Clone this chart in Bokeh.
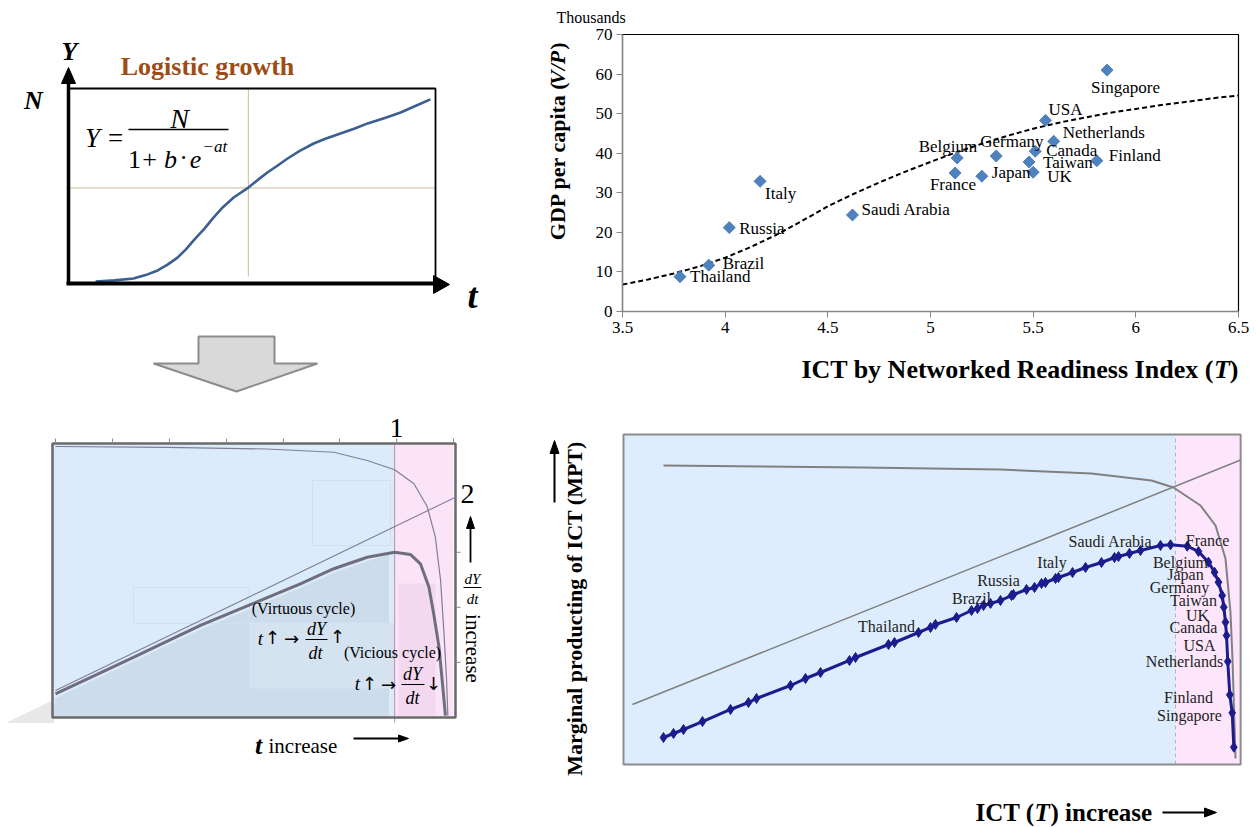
import math
from bokeh.plotting import figure
from bokeh.models import Range1d, NumeralTickFormatter
from bokeh.layouts import row, column
from bokeh.embed import file_html
from bokeh.resources import INLINE
from bokeh.core.properties import value

SERIF = "Liberation Serif"
ARROWFONT = "DejaVu Sans"

# ---------------- data: top-right scatter (GDP per capita vs NRI) ----------------
countries = ["Thailand", "Brazil", "Russia", "Italy", "Saudi Arabia", "Belgium", "France",
             "Japan", "Germany", "Canada", "Taiwan", "UK", "USA", "Netherlands", "Finland", "Singapore"]
ict_index = [3.78, 3.92, 4.02, 4.17, 4.62, 5.13, 5.12, 5.25, 5.32, 5.51, 5.48, 5.50, 5.56, 5.60, 5.81, 5.86]
gdp_thousands = [8.8, 11.7, 21.2, 32.9, 24.4, 38.8, 35.0, 34.2, 39.3, 40.5, 37.8, 35.2, 48.3, 43.0, 38.1, 61.0]
fit_ict = [3.5, 3.625, 3.75, 3.875, 4.0, 4.125, 4.25, 4.375, 4.5, 4.625, 4.75, 4.875, 5.0,
           5.125, 5.25, 5.375, 5.5, 5.625, 5.75, 5.875, 6.0, 6.125, 6.25, 6.375, 6.5]
fit_gdp = [6.8, 8.1, 9.6, 11.4, 13.6, 16.3, 19.4, 22.9, 26.6, 29.7, 32.6, 35.3, 37.8,
           40.2, 42.4, 44.4, 46.2, 47.7, 49.0, 50.2, 51.2, 52.2, 53.0, 53.9, 54.6]
ict_ticks = [3.5, 4.0, 4.5, 5.0, 5.5, 6.0, 6.5]
gdp_ticks = [0, 10, 20, 30, 40, 50, 60, 70]

# ---------------- data: top-left logistic schematic (t: 0..10, Y as share of N) ----------------
logistic_t = [0.74, 1.25, 1.77, 2.10, 2.43, 2.70, 2.97, 3.20, 3.41, 3.70, 3.95, 4.20, 4.50, 4.90,
              5.15, 5.42, 5.70, 5.97, 6.30, 6.68, 7.00, 7.41, 7.80, 8.15, 8.60, 9.05, 9.45, 9.86]
logistic_y = [0.010, 0.016, 0.026, 0.043, 0.067, 0.097, 0.133, 0.175, 0.221, 0.280, 0.338, 0.390,
              0.441, 0.492, 0.530, 0.569, 0.605, 0.641, 0.680, 0.718, 0.742, 0.769, 0.795, 0.821,
              0.848, 0.877, 0.910, 0.944]
inflection_t = 4.9
inflection_y = 0.49

# ---------------- data: bottom-left schematic (0..100 box units) ----------------
cyc_top_x = [0.74, 28.4, 53.2, 69.8, 78.1, 84.9, 89.7, 93.0, 95.0, 96.3, 97.1, 97.8, 98.1]
cyc_top_y = [98.9, 98.6, 98.0, 96.8, 93.8, 90.4, 85.3, 76.9, 65.8, 50.0, 31.8, 13.5, 0.7]
cyc_line_x = [0.74, 100.0]
cyc_line_y = [9.85, 80.4]
cyc_dydt_x = [0.74, 20.2, 36.7, 49.1, 61.5, 69.8, 78.1, 84.9, 88.8, 91.3, 93.4, 94.6, 95.9, 96.7, 97.5]
cyc_dydt_y = [8.65, 22.0, 33.6, 41.2, 48.8, 54.3, 58.5, 60.3, 59.5, 56.1, 47.6, 37.8, 25.7, 13.5, 0.7]
cyc_peak_x = 84.9
cyc_top_ticks = [0.74, 14.9, 29.0, 43.2, 57.3, 71.2, 85.4, 99.5]
cyc_right_ticks = [60.3, 40.2, 20.1]

# ---------------- data: bottom-right MPT curve (0..100 box units) ----------------
mpt_x = [6.46, 8.08, 9.69, 12.76, 17.29, 20.19, 21.49, 26.98, 29.40, 31.83, 36.51, 37.48, 42.81, 43.78,
         47.66, 49.60, 50.40, 53.80, 56.22, 57.19, 58.16, 59.29, 60.90, 62.68, 63.00, 65.11, 66.40, 67.53,
         68.17, 69.79, 70.27, 72.54, 74.64, 77.22, 79.32, 79.97, 81.74, 83.52, 86.75, 88.37, 91.07, 92.89,
         94.51, 95.48, 96.12, 96.72, 96.98, 97.25, 97.42, 97.62, 97.95, 98.34, 98.60]
mpt_y = [8.43, 9.64, 10.84, 13.25, 16.87, 18.98, 20.18, 24.10, 26.20, 28.01, 31.63, 32.53, 36.45, 37.05,
         40.06, 41.57, 42.47, 44.58, 46.69, 47.29, 48.19, 48.80, 49.70, 51.20, 51.51, 53.01, 53.61, 54.82,
         55.12, 56.33, 56.63, 58.13, 59.64, 61.14, 62.65, 62.95, 63.86, 64.76, 66.27, 66.48, 66.05, 64.46,
         61.23, 58.22, 55.21, 51.20, 47.68, 43.16, 39.16, 31.33, 21.30, 15.87, 5.51]
limit_x = [6.46, 38.61, 60.90, 75.61, 85.30, 88.85, 93.21, 95.64, 97.25, 98.06, 98.38, 98.71, 98.87]
limit_y = [90.36, 89.76, 89.16, 87.95, 85.84, 83.73, 78.31, 72.29, 62.35, 46.08, 32.23, 12.05, 2.11]
trend_x = [1.45, 99.7]
trend_y = [18.37, 92.0]
mpt_boundary = 89.18
mpt_names = ["Thailand", "Brazil", "Russia", "Italy", "Saudi Arabia", "France", "Belgium", "Japan",
             "Germany", "Taiwan", "UK", "Canada", "USA", "Netherlands", "Finland", "Singapore"]
mpt_name_x = [42.49, 56.22, 60.58, 69.22, 78.68, 94.35, 89.98, 90.79, 89.82, 92.08, 92.73, 92.08, 93.05, 90.63, 91.28, 91.44]
mpt_name_y = [41.87, 50.30, 55.72, 61.14, 67.47, 67.77, 61.14, 57.53, 53.61, 49.70, 45.18, 41.57, 36.14, 31.33, 20.48, 15.06]

# label offsets (pixels) and alignment for the scatter labels
lab_dx = [10, 14, 10, 5, 9, 20, 21, 10, -16, 11, 14, 14, 3, 9, 12, -16]
lab_dy = [0, -2, 1, 12, -5, -11, 11, -4, -14, -1, 1, 4, -11, -9, -5, 17]
lab_align = ["left", "left", "left", "left", "left", "right", "right", "left", "left", "left",
             "left", "left", "left", "left", "left", "left"]


# ---------------- helpers ----------------
def mapping(left, top, w, h, xv0, xp0, xv1, xp1, yv0, yp0, yv1, yp1):
    kx = (xv1 - xv0) / (xp1 - xp0)
    ky = (yv1 - yv0) / (yp1 - yp0)

    def X(px):
        return xv0 + (px - xp0) * kx

    def Y(py):
        return yv0 + (py - yp0) * ky

    return X, Y, Range1d(X(left), X(left + w)), Range1d(Y(top + h), Y(top))


def pixel_mapping(left, top, w, h):
    return mapping(left, top, w, h, 0, 0, 1, 1, 0, 0, -1, 1)


def blank(w, h, xr, yr):
    p = figure(width=w, height=h, x_range=xr, y_range=yr, output_backend="svg",
               toolbar_location=None, x_axis_type=None, y_axis_type=None, min_border=0)
    p.outline_line_color = None
    p.background_fill_color = "white"
    p.border_fill_color = "white"
    return p


def txt(p, x, y, s, size, style="normal", align="center", baseline="middle", color="black",
        angle=0.0, font=SERIF):
    p.text(x=[x], y=[y], text=[s], text_font=value(font), text_font_size=f"{size}px",
           text_font_style=style, text_align=align, text_baseline=baseline,
           text_color=color, angle=angle)


def arrow_txt(p, x, y, s, size=18):
    txt(p, x, y, s, size, font=ARROWFONT)


# =============== top-left: logistic growth ===============
X, Y, xr, yr = mapping(0, 0, 540, 408, 0, 68, 10, 435, 0, 283, 1, 88)
tl = blank(540, 408, xr, yr)
guide = "#C8BD99"
tl.line([inflection_t, inflection_t], [Y(87), Y(276)], line_color=guide, line_width=1)
tl.line([0, 10], [inflection_y, inflection_y], line_color=guide, line_width=1)
tl.line(logistic_t, logistic_y, line_color="#3D5F8F", line_width=2.6, line_join="round")
tl.line([0, 10, 10], [1, 1, 0], line_color="black", line_width=1.8)
tl.line([0, 0], [Y(284), Y(80)], line_color="black", line_width=3.5)
tl.patch([X(61), X(75), X(68)], [Y(83), Y(83), Y(67)], color="black")
tl.line([X(66), X(436)], [0, 0], line_color="black", line_width=4)
tl.patch([X(433), X(433), X(449)], [Y(275), Y(293), Y(284)], color="black")
txt(tl, X(69), Y(51), "Y", 26, "bold italic", baseline="alphabetic")
txt(tl, X(33), Y(100), "N", 26, "bold italic", baseline="alphabetic")
txt(tl, X(472), Y(295), "t", 36, "bold italic", baseline="alphabetic")
txt(tl, X(207), Y(66), "Logistic growth", 26, "bold", baseline="alphabetic", color="#9E4C14")
# formula
txt(tl, X(92), Y(137), "Y", 27, "italic", baseline="alphabetic")
txt(tl, X(115), Y(137), "=", 27, baseline="alphabetic")
txt(tl, X(179), Y(118), "N", 28, "italic", baseline="alphabetic")
tl.line([X(128), X(228)], [Y(129), Y(129)], line_color="black", line_width=1.3)
txt(tl, X(134), Y(159), "1", 26, baseline="alphabetic")
txt(tl, X(149), Y(159), "+", 26, baseline="alphabetic")
txt(tl, X(170), Y(159), "b", 26, "italic", baseline="alphabetic")
txt(tl, X(183), Y(157), "\u00b7", 26, baseline="alphabetic")
txt(tl, X(195), Y(159), "e", 26, "italic", baseline="alphabetic")
txt(tl, X(202), Y(146), "\u2212at", 17, "italic", align="left", baseline="alphabetic")
# block arrow
tl.patch([X(198), X(274), X(274), X(317), X(236), X(153), X(198)],
         [Y(336), Y(336), Y(363), Y(363), Y(391), Y(363), Y(363)],
         fill_color="#D9D9D9", line_color="#8C8C8C", line_width=2)

# =============== top-right: scatter (plus title strips) ===============
X, Y, xr, yr = pixel_mapping(540, 0, 717, 25)
top_strip = blank(717, 25, xr, yr)
txt(top_strip, X(556), Y(17), "Thousands", 16, align="left")

X, Y, xr, yr = pixel_mapping(540, 25, 38, 320)
left_strip = blank(38, 320, xr, yr)
txt(left_strip, X(557), Y(170.5), "GDP per capita (", 22, "bold", angle=math.pi / 2)
txt(left_strip, X(557), Y(63.5), "V/P", 22, "bold italic", angle=math.pi / 2)
txt(left_strip, X(557), Y(38.5), ")", 22, "bold", angle=math.pi / 2)

tr = figure(width=679, height=320, x_range=Range1d(3.5, 6.5), y_range=Range1d(0, 70),
            output_backend="svg", toolbar_location=None,
            min_border_left=44, min_border_right=19, min_border_top=9, min_border_bottom=34)
tr.grid.visible = False
tr.outline_line_color = "black"
tr.outline_line_width = 1.2
tr.background_fill_color = "white"
tr.border_fill_color = "white"
tr.axis.axis_line_color = "#868686"
tr.axis.axis_line_width = 1.3
tr.axis.major_tick_line_color = "#868686"
tr.axis.major_tick_out = 6
tr.axis.major_tick_in = 0
tr.axis.minor_tick_line_color = None
tr.axis.major_label_text_font = SERIF
tr.axis.major_label_text_font_size = "17px"
tr.axis.major_label_text_color = "black"
tr.axis.major_label_standoff = 4
tr.xaxis.ticker = ict_ticks
tr.yaxis.ticker = gdp_ticks
tr.xaxis.formatter = NumeralTickFormatter(format="0.[0]")

tr.line(fit_ict, fit_gdp, line_color="black", line_width=2, line_dash="5 3")
tr.scatter(ict_index, gdp_thousands, marker="square", angle=math.pi / 4, size=8.5,
           fill_color="#4F81BD", line_color="#4F81BD")
tr.text(x=ict_index, y=gdp_thousands, text=countries, x_offset=lab_dx, y_offset=lab_dy,
        text_align=lab_align, text_baseline="middle", text_font=value(SERIF),
        text_font_size="17px", text_color="black")

X, Y, xr, yr = pixel_mapping(540, 345, 717, 63)
bottom_strip = blank(717, 63, xr, yr)
txt(bottom_strip, X(1238), Y(369), ")", 26, "bold", align="right")
txt(bottom_strip, X(1238 - 0.333 * 26), Y(369), "T", 26, "bold italic", align="right")
txt(bottom_strip, X(1238 - 0.95 * 26), Y(369), "ICT by Networked Readiness Index (", 26, "bold", align="right")

# =============== bottom-left: virtuous / vicious cycle ===============
X, Y, xr, yr = mapping(0, 408, 540, 419, 0, 52, 100, 455, 0, 717, 100, 443)
bl = blank(540, 419, xr, yr)
bl.patch([X(7), X(53), X(53)], [Y(722), Y(700), Y(722)], color="#E8E8E8")
bl.quad(left=0, right=cyc_peak_x, bottom=0, top=100, fill_color="#DCEBFA", line_color=None)
shade_x = [x for x in cyc_dydt_x if x <= 84] + [83.5, 83.5, 0]
shade_y = [y - 1.5 for x, y in zip(cyc_dydt_x, cyc_dydt_y) if x <= 84] + [59.5, 0, 0]
bl.patch(shade_x, shade_y, fill_color="#CCDCEB", line_color=None)
bl.quad(left=X(249), right=cyc_peak_x, bottom=Y(688), top=Y(622), fill_color="#D5E3F1", line_color=None)
bl.quad(left=cyc_peak_x, right=99.5, bottom=0, top=100, fill_color="#FCE4F8", line_color=None)
bl.quad(left=X(398), right=X(435), bottom=Y(715), top=Y(583), fill_color="#F3D9F0", line_color=None)
bl.quad(left=X(312), right=X(390), bottom=Y(545), top=Y(480), fill_color=None, line_color="#CFE0F2", line_width=1)
bl.quad(left=X(133), right=X(249), bottom=Y(623), top=Y(587), fill_color=None, line_color="#CFE0F2", line_width=1)
bl.line([cyc_peak_x, cyc_peak_x], [0, 100], line_color="#B88FB8", line_width=1)
bl.line([cyc_peak_x, cyc_peak_x], [Y(717), Y(722)], line_color="#9A9A9A", line_width=1)
bl.quad(left=0, right=100, bottom=0, top=100, fill_color=None, line_color="#6A6A6A", line_width=2.5)
for tx in cyc_top_ticks:
    bl.line([tx, tx], [100, Y(438)], line_color="#8A8A8A", line_width=1)
for ty in cyc_right_ticks:
    bl.line([100, X(460)], [ty, ty], line_color="#8A8A8A", line_width=1)
bl.line(cyc_top_x, cyc_top_y, line_color="#7E7E98", line_width=1.2)
bl.line(cyc_line_x, cyc_line_y, line_color="#7E7E98", line_width=1.1)
bl.line(cyc_dydt_x, cyc_dydt_y, line_color="#6E6E7C", line_width=3, line_join="round")
txt(bl, X(396), Y(427), "1", 28)
txt(bl, X(467), Y(493), "2", 28)
txt(bl, X(303), Y(608), "(Virtuous cycle)", 16)
txt(bl, X(260), Y(638), "t", 19, "italic")
arrow_txt(bl, X(272), Y(637), "\u2191")
arrow_txt(bl, X(291), Y(638), "\u2192")
txt(bl, X(316), Y(628), "dY", 18, "italic")
bl.line([X(305), X(327)], [Y(639), Y(639)], line_color="black", line_width=1)
txt(bl, X(315), Y(652), "dt", 18, "italic")
arrow_txt(bl, X(337), Y(636), "\u2191")
txt(bl, X(392), Y(652), "(Vicious cycle)", 16)
txt(bl, X(357), Y(683), "t", 19, "italic")
arrow_txt(bl, X(369), Y(683), "\u2191")
arrow_txt(bl, X(388), Y(684), "\u2192")
txt(bl, X(412), Y(673), "dY", 18, "italic")
bl.line([X(401), X(424)], [Y(684), Y(684)], line_color="black", line_width=1)
txt(bl, X(412), Y(697), "dt", 18, "italic")
arrow_txt(bl, X(433), Y(683), "\u2193")
# right-side label
bl.line([X(470), X(470)], [Y(562), Y(526)], line_color="black", line_width=1.8)
bl.patch([X(466), X(474), X(470)], [Y(528), Y(528), Y(516)], color="black")
txt(bl, X(472), Y(578), "dY", 15, "italic")
bl.line([X(463), X(481)], [Y(587), Y(587)], line_color="black", line_width=1)
txt(bl, X(472), Y(598), "dt", 15, "italic")
txt(bl, X(472), Y(648), "increase", 21, angle=-math.pi / 2)
# bottom label
txt(bl, X(258), Y(745), "t", 26, "bold italic", baseline="alphabetic")
txt(bl, X(268), Y(745), "increase", 21, align="left", baseline="alphabetic")
bl.line([X(353), X(400)], [Y(738), Y(738)], line_color="black", line_width=1.8)
bl.patch([X(398), X(398), X(408)], [Y(734.5), Y(741.5), Y(738)], color="black")

# =============== bottom-right: marginal productivity of ICT ===============
X, Y, xr, yr = mapping(540, 408, 717, 419, 0, 623, 100, 1242, 0, 765, 100, 433)
br = blank(717, 419, xr, yr)
br.quad(left=0, right=mpt_boundary, bottom=0.3, top=99.7, fill_color="#DDEDFD", line_color=None)
br.quad(left=mpt_boundary, right=99.7, bottom=0.3, top=99.7, fill_color="#FDE6FB", line_color=None)
br.line([mpt_boundary, mpt_boundary], [0.3, 99.7], line_color="#B5B5B5", line_width=1, line_dash="4 3")
br.quad(left=0, right=99.7, bottom=0.3, top=99.7, fill_color=None, line_color="#8C8C8C", line_width=2)
br.line(trend_x, trend_y, line_color="#808080", line_width=1.5)
br.line(limit_x, limit_y, line_color="#808080", line_width=2, line_join="round")
br.line(mpt_x, mpt_y, line_color="#1C1C8E", line_width=3, line_join="round")
br.scatter(mpt_x, mpt_y, marker="diamond", size=10, fill_color="#1C1C8E", line_color="#1C1C8E")
br.text(x=mpt_name_x, y=mpt_name_y, text=mpt_names, text_align="center", text_baseline="middle",
        text_font=value(SERIF), text_font_size="16px", text_color="#1E1E1E")
txt(br, X(574), Y(608), "Marginal producting of ICT (MPT)", 22, "bold", angle=math.pi / 2)
br.line([X(554), X(554)], [Y(502), Y(450)], line_color="black", line_width=2)
br.patch([X(549.5), X(558.5), X(554)], [Y(453), Y(453), Y(440)], color="black")
txt(br, X(975), Y(812), "ICT (", 25, "bold", align="left")
txt(br, X(975 + 59), Y(812), "T", 25, "bold italic", align="left")
txt(br, X(975 + 59 + 16), Y(812), ") increase", 25, "bold", align="left")
br.line([X(1162), X(1206)], [Y(812), Y(812)], line_color="black", line_width=2)
br.patch([X(1204), X(1204), X(1216)], [Y(807.5), Y(816.5), Y(812)], color="black")

right_top = column(top_strip, row(left_strip, tr), bottom_strip)
layout = column(row(tl, right_top), row(bl, br))
open("out.html", "w").write(file_html(layout, INLINE))
